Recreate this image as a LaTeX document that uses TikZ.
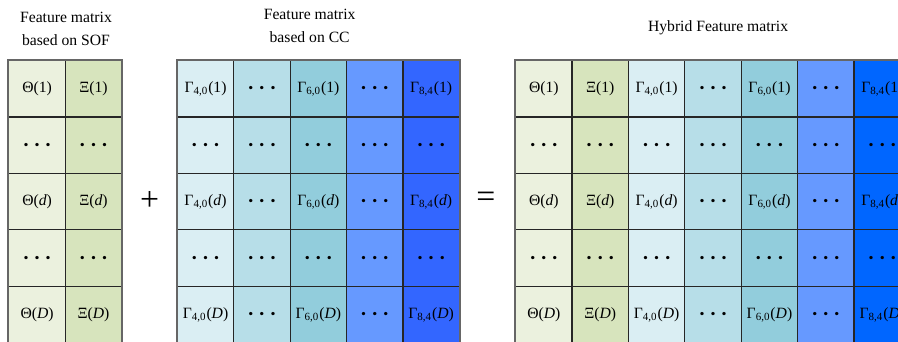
\documentclass[tikz,border=0pt]{standalone}
\usepackage{fontspec}
\setmainfont{Liberation Serif}
\usetikzlibrary{positioning, calc}
\definecolor{cTheta}{RGB}{235,241,222}
\definecolor{cXi}{RGB}{215,228,189}
\definecolor{cAquaA}{RGB}{218,238,243}
\definecolor{cAquaB}{RGB}{183,222,232}
\definecolor{cAquaC}{RGB}{146,205,220}
\definecolor{cBlueA}{RGB}{102,153,255}
\definecolor{cBlueB}{RGB}{51,102,255}
\definecolor{cBlueC}{RGB}{0,102,255}
\tikzset{
	cell/.style     ={rectangle, draw=black!85, line width=0.6pt, minimum width=1cm, minimum height=1cm, inner sep=0pt, anchor=north west},
	title/.style    ={align=center, font=\fontsize{7.9}{11.5}\selectfont},
	opsign/.style   ={font=\fontsize{17}{17}\selectfont, inner sep=0pt},
	frame/.style    ={draw=black!60, line width=0.9pt},
}
\newcommand{\celldots}{{\fontsize{10.5}{10.5}\selectfont\boldmath$\cdots$}}
% one column of a feature matrix: #1 name, #2 left x, #3 colour, #4 symbol (empty: dots only)
\newcommand{\featcol}[4]{%
	\foreach \r/\arg in {1/1,2/,3/\textit{d},4/,5/\textit{D}} {
		\node[cell, fill=#3, font=\fontsize{7.9}{9}\selectfont] (#1-\r) at (#2,{4.982-(\r-1)}) {%
			\def\sym{#4}%
			\ifx\sym\empty \celldots\else\ifx\arg\empty \celldots\else #4(\arg)\fi\fi};
	}
}
\begin{document}
\begin{tikzpicture}
	\useasboundingbox (0,0) rectangle (15.92,6.046);
	% SOF matrix
	\featcol{sofA}{0.147}{cTheta}{Θ}
	\featcol{sofB}{1.147}{cXi}{Ξ}
	\draw[frame] (sofA-1.north west) rectangle (sofB-5.south east);
	\node[title] (tSof) at (1.17,5.53) {Feature matrix\\based on SOF};
	% CC matrix
	\featcol{ccA}{3.133}{cAquaA}{Γ\textsubscript{4,0}}
	\featcol{ccB}{4.133}{cAquaB}{}
	\featcol{ccC}{5.133}{cAquaC}{Γ\textsubscript{6,0}}
	\featcol{ccD}{6.133}{cBlueA}{}
	\featcol{ccE}{7.133}{cBlueB}{Γ\textsubscript{8,4}}
	\draw[frame] (ccA-1.north west) rectangle (ccE-5.south east);
	\node[title] (tCc) at (5.49,5.585) {Feature matrix\\based on CC};
	% hybrid matrix
	\featcol{hyA}{9.131}{cTheta}{Θ}
	\featcol{hyB}{10.131}{cXi}{Ξ}
	\featcol{hyC}{11.131}{cAquaA}{Γ\textsubscript{4,0}}
	\featcol{hyD}{12.131}{cAquaB}{}
	\featcol{hyE}{13.131}{cAquaC}{Γ\textsubscript{6,0}}
	\featcol{hyF}{14.131}{cBlueA}{}
	\featcol{hyG}{15.131}{cBlueC}{Γ\textsubscript{8,4}}
	\draw[frame] (hyA-1.north west) rectangle (hyG-5.south east);
	\node[title] (tHy) at (12.73,5.55) {Hybrid Feature matrix};
	% operators
	\node[opsign] (plus) at (2.651,2.487) {+};
	\node[opsign] (equal) at (8.612,2.509) {=};
\end{tikzpicture}
\end{document}
